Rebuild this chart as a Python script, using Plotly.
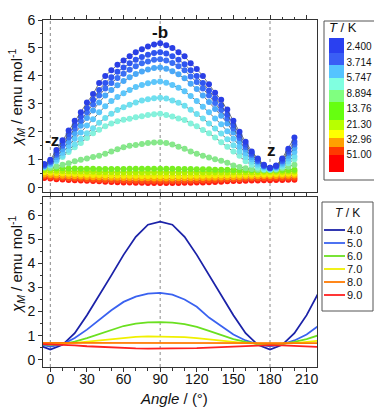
import math
import plotly.graph_objects as go

W, H = 374, 408

# ---------------- data: top panel (measured, markers) ----------------
angles_top = list(range(-5, 201, 5))

chi_c1 = [0.85,1.0,1.35,1.7,2.05,2.4,2.7,3.05,3.35,3.75, 4.0,4.2,4.4,4.55,4.7,4.85,4.95,5.05,5.12,5.17,
          5.1,5.0,4.85,4.7,4.45,4.25,4.0,3.7,3.4,3.15, 2.8,2.4,2.0,1.65,1.3,1.05,0.82,0.72, 0.8,1.05,1.4,1.8]
chi_c2 = [0.82,0.95,1.25,1.6,1.92,2.25,2.55,2.85,3.15,3.5, 3.75,3.95,4.15,4.3,4.45,4.58,4.68,4.76,4.82,4.85,
          4.8,4.7,4.58,4.42,4.2,4.0,3.75,3.48,3.2,2.95, 2.62,2.25,1.88,1.55,1.24,1.0,0.8,0.72, 0.78,1.0,1.32,1.65]
chi_c3 = [0.8,0.92,1.18,1.5,1.8,2.12,2.4,2.7,2.98,3.3, 3.55,3.75,3.93,4.08,4.22,4.35,4.45,4.52,4.58,4.6,
          4.55,4.46,4.35,4.2,3.98,3.78,3.55,3.3,3.03,2.78, 2.48,2.12,1.78,1.46,1.18,0.96,0.78,0.7, 0.76,0.95,1.25,1.55]
chi_c4 = [0.78,0.88,1.1,1.38,1.65,1.95,2.22,2.5,2.76,3.05, 3.3,3.5,3.67,3.82,3.95,4.07,4.16,4.23,4.28,4.3,
          4.26,4.17,4.06,3.92,3.72,3.53,3.3,3.07,2.82,2.58, 2.3,1.98,1.66,1.37,1.1,0.92,0.76,0.7, 0.74,0.9,1.15,1.42]
chi_c5 = [0.76,0.85,1.02,1.25,1.5,1.75,1.98,2.23,2.45,2.7, 2.92,3.1,3.25,3.38,3.5,3.6,3.68,3.74,3.78,3.8,
          3.76,3.68,3.58,3.45,3.28,3.1,2.9,2.7,2.48,2.27, 2.02,1.75,1.48,1.24,1.02,0.86,0.74,0.68, 0.72,0.85,1.05,1.28]
chi_c6 = [0.75,0.82,0.97,1.15,1.35,1.55,1.75,1.95,2.13,2.33, 2.5,2.65,2.78,2.88,2.97,3.05,3.12,3.17,3.2,3.22,
          3.19,3.12,3.04,2.93,2.79,2.64,2.48,2.3,2.12,1.94, 1.74,1.52,1.3,1.1,0.93,0.8,0.7,0.66, 0.7,0.8,0.95,1.12]
chi_c7 = [0.75,0.8,0.95,1.1,1.28,1.45,1.6,1.78,1.95,2.08, 2.2,2.3,2.38,2.43,2.47,2.52,2.56,2.6,2.63,2.65,
          2.6,2.55,2.48,2.42,2.3,2.2,2.07,1.95,1.8,1.63, 1.47,1.3,1.15,0.95,0.82,0.72,0.66,0.65, 0.68,0.75,0.88,1.02]
chi_c8 = [0.72,0.72,0.76,0.82,0.88,0.95,1.0,1.05,1.1,1.15, 1.22,1.3,1.38,1.45,1.5,1.53,1.57,1.6,1.62,1.63,
          1.6,1.55,1.47,1.4,1.3,1.22,1.15,1.08,1.02,0.97, 0.9,0.8,0.74,0.7,0.67,0.65,0.64,0.64, 0.65,0.7,0.75,0.82]
chi_l1 = [0.72,0.71,0.7,0.7,0.69,0.69,0.68,0.68,0.68,0.67, 0.67,0.67,0.67,0.67,0.68,0.68,0.68,0.68,0.68,0.68,
          0.68,0.68,0.67,0.67,0.67,0.66,0.66,0.66,0.65,0.65, 0.65,0.64,0.64,0.64,0.63,0.63,0.63,0.63, 0.63,0.64,0.64,0.65]
chi_l2 = [0.64,0.62,0.61,0.6,0.59,0.58,0.58,0.57,0.57,0.56, 0.56,0.56,0.55,0.55,0.55,0.55,0.55,0.55,0.55,0.55,
          0.55,0.55,0.55,0.55,0.55,0.55,0.55,0.55,0.55,0.55, 0.55,0.56,0.56,0.56,0.56,0.56,0.57,0.57, 0.57,0.57,0.58,0.58]
chi_l3 = [0.56,0.54,0.52,0.51,0.5,0.49,0.48,0.47,0.46,0.46, 0.45,0.44,0.44,0.43,0.43,0.43,0.42,0.42,0.42,0.42,
          0.42,0.42,0.42,0.42,0.43,0.43,0.43,0.44,0.44,0.45, 0.45,0.46,0.46,0.47,0.47,0.48,0.48,0.48, 0.49,0.49,0.5,0.5]
chi_l4 = [0.48,0.46,0.44,0.43,0.42,0.41,0.4,0.39,0.38,0.38, 0.37,0.36,0.36,0.35,0.35,0.34,0.34,0.34,0.33,0.33,
          0.33,0.33,0.34,0.34,0.34,0.35,0.35,0.36,0.36,0.37, 0.38,0.38,0.39,0.4,0.4,0.41,0.42,0.42, 0.42,0.43,0.43,0.44]
chi_l5 = [0.41,0.39,0.37,0.36,0.34,0.33,0.32,0.31,0.3,0.29, 0.28,0.27,0.27,0.26,0.25,0.25,0.24,0.24,0.24,0.24,
          0.24,0.24,0.24,0.25,0.25,0.26,0.26,0.27,0.28,0.29, 0.3,0.31,0.31,0.32,0.33,0.33,0.34,0.34, 0.35,0.35,0.36,0.36]
chi_l6 = [0.35,0.33,0.31,0.3,0.28,0.27,0.26,0.25,0.24,0.23, 0.22,0.21,0.2,0.19,0.19,0.18,0.18,0.17,0.17,0.17,
          0.17,0.17,0.17,0.18,0.18,0.19,0.19,0.2,0.21,0.22, 0.23,0.24,0.24,0.25,0.26,0.26,0.27,0.27, 0.28,0.28,0.29,0.29]

top_series = [chi_l6, chi_l5, chi_l4, chi_l3, chi_l2, chi_l1,
              chi_c8, chi_c7, chi_c6, chi_c5, chi_c4, chi_c3, chi_c2, chi_c1]
top_colors = ['#ff1a10', '#ff5010', '#ffa800', '#f2ee00', '#b5f000', '#78f020',
              '#86e88a', '#84f2dc', '#6fe0f0', '#5cc6fb', '#4aa8f8', '#3a6ef5', '#2f55f0', '#2a3fe6']

# colour-key of the top panel (temperature labels, K)
key_T_labels = ['2.400', '3.714', '5.747', '8.894', '13.76', '21.30', '32.96', '51.00']
key_colors = ['#ff0000', '#ff3a00', '#ffa000', '#ffff00', '#b8ff00', '#66ff10',
              '#80ff80', '#80ffe0', '#55c4ff', '#3a5ef5', '#2a40f0']
key_edges = [0.0, 0.127, 0.187, 0.254, 0.313, 0.388, 0.522, 0.612, 0.701, 0.799, 0.888, 1.0]

# ---------------- data: bottom panel (calculated, lines) ----------------
angles_bot = list(range(-10, 221, 10))
T_bot = ['4.0', '5.0', '6.0', '7.0', '8.0', '9.0']
calc_40 = [0.62,0.42,0.62,1.1,1.85,2.65,3.5,4.35,5.1,5.6,5.73,5.6,5.1,4.35,3.5,2.65,1.85,1.1,0.62,0.42,0.62,1.1,1.85,2.8]
calc_50 = [0.64,0.55,0.64,0.9,1.25,1.65,2.05,2.4,2.62,2.74,2.77,2.7,2.5,2.2,1.75,1.4,1.05,0.8,0.64,0.56,0.64,0.8,1.05,1.42]
calc_60 = [0.65,0.62,0.65,0.75,0.9,1.07,1.25,1.4,1.5,1.55,1.56,1.54,1.48,1.36,1.2,1.02,0.86,0.74,0.66,0.62,0.66,0.74,0.86,1.02]
calc_70 = [0.67,0.66,0.67,0.7,0.75,0.81,0.87,0.92,0.95,0.97,0.97,0.96,0.94,0.9,0.84,0.78,0.73,0.69,0.67,0.66,0.67,0.69,0.73,0.79]
calc_80 = [0.70,0.70,0.70,0.70,0.70,0.70,0.69,0.69,0.69,0.69,0.69,0.69,0.69,0.69,0.69,0.69,0.69,0.69,0.69,0.69,0.69,0.69,0.69,0.69]
calc_90 = [0.66,0.65,0.63,0.6,0.56,0.53,0.5,0.48,0.47,0.46,0.46,0.46,0.47,0.48,0.5,0.52,0.55,0.58,0.6,0.61,0.6,0.58,0.56,0.53]
bot_series = [calc_40, calc_50, calc_60, calc_70, calc_80, calc_90]
bot_colors = ['#1b22a8', '#3a62f0', '#6ae020', '#f0f000', '#ff7a00', '#ff2020']

ref_angles = [0, 90, 180]
x_range = [-6, 218.5]
top_labels = [('-z', 1.5, 1.7), ('-b', 90, 5.55), ('z', 181.5, 1.32)]

FONT = 'Liberation Sans, Arial, sans-serif'

def px(x):
    return x / W

def py(y):
    return 1 - y / H

fig = go.Figure()

# top panel traces
for vals, col in zip(top_series, top_colors):
    fig.add_trace(go.Scatter(x=angles_top, y=vals, mode='lines+markers',
                             line=dict(color='#555555', width=0.8),
                             marker=dict(color=col, size=6, line=dict(width=0)),
                             showlegend=False, xaxis='x', yaxis='y'))

# colour key as colorbar (log temperature, low T at top)
step = math.log10(3.714 / 2.400)
tvals = [-math.log10(float(t)) for t in key_T_labels]
cmax = tvals[0] + 0.56 * step
cmin = tvals[-1] - 1.1 * step
cscale = []
for i, c in enumerate(key_colors):
    cscale.append([key_edges[i], c])
    cscale.append([key_edges[i + 1], c])
fig.add_trace(go.Scatter(x=[None], y=[None], mode='markers', showlegend=False,
                         xaxis='x', yaxis='y',
                         marker=dict(color=[cmin], colorscale=cscale, cmin=cmin, cmax=cmax,
                                     showscale=True,
                                     colorbar=dict(x=px(329), xanchor='left', y=py(38), yanchor='top',
                                                   lenmode='pixels', len=134, thicknessmode='pixels',
                                                   thickness=15, xpad=0, ypad=0,
                                                   outlinewidth=0, borderwidth=0,
                                                   bgcolor='rgba(0,0,0,0)',
                                                   tickvals=tvals, ticktext=key_T_labels, ticks='',
                                                   tickfont=dict(size=10, color='#111111', family=FONT)))))

# bottom panel traces
for vals, col, name in zip(bot_series, bot_colors, T_bot):
    fig.add_trace(go.Scatter(x=angles_bot, y=vals, mode='lines', name=name,
                             line=dict(color=col, width=1.8),
                             showlegend=False, xaxis='x2', yaxis='y2'))

axis_common = dict(showline=True, linecolor='#333333', linewidth=1, showgrid=False, zeroline=False,
                   ticks='outside', tickcolor='#333333', automargin=False,
                   tickfont=dict(size=14, color='#111111', family=FONT))

fig.update_layout(
    width=W, height=H, margin=dict(l=0, r=0, t=0, b=0, pad=0, autoexpand=False),
    paper_bgcolor='white', plot_bgcolor='white',
    font=dict(family=FONT, color='#111111'),
    xaxis=dict(domain=[px(43), px(317)], range=x_range, anchor='y', mirror='ticks',
               tickvals=list(range(0, 211, 30)), ticklen=4, showticklabels=False,
               minor=dict(dtick=10, tick0=0, ticklen=2.5, ticks='outside', tickcolor='#333333'),
               **axis_common),
    yaxis=dict(domain=[py(192), py(20)], range=[-0.15, 6], anchor='x', mirror=True,
               tickvals=list(range(0, 7)), ticklen=4,
               minor=dict(dtick=0.5, tick0=0, ticklen=2.5, ticks='outside', tickcolor='#333333'),
               **axis_common),
    xaxis2=dict(domain=[px(43), px(317)], range=x_range, anchor='y2', mirror='ticks',
                tickvals=list(range(0, 211, 30)), ticklen=4, ticklabelstandoff=-5,
                minor=dict(dtick=10, tick0=0, ticklen=2.5, ticks='outside', tickcolor='#333333'),
                **axis_common),
    yaxis2=dict(domain=[py(367), py(197)], range=[-0.3, 6.75], anchor='x2', mirror=True,
                tickvals=list(range(0, 7)), ticklen=4,
                minor=dict(dtick=0.5, tick0=0, ticklen=2.5, ticks='outside', tickcolor='#333333'),
                **axis_common),
)

# reference lines (special crystal directions)
for a in ref_angles:
    for xr, yr in (('x', 'y domain'), ('x2', 'y2 domain')):
        fig.add_shape(type='line', xref=xr, yref=yr, x0=a, x1=a, y0=0, y1=1,
                      line=dict(color='#8a8a8a', width=1, dash='dot'), layer='below')

# direction labels in top panel
for txt, xa, ya in top_labels:
    fig.add_annotation(x=xa, y=ya, xref='x', yref='y', text='<b>' + txt + '</b>', showarrow=False,
                       xanchor='center', yanchor='middle',
                       font=dict(size=17, color='#111111', family=FONT))

# colour-key frame and title
fig.add_shape(type='rect', xref='paper', yref='paper', x0=px(324), x1=px(380), y0=py(180), y1=py(21),
              line=dict(color='#555555', width=1), fillcolor='rgba(0,0,0,0)')
fig.add_annotation(x=px(343), y=py(28), xref='paper', yref='paper', text='<i>T</i> / K',
                   xanchor='center', yanchor='middle',
                   showarrow=False, font=dict(size=13, family=FONT, color='#111111'))

# axis titles
ytitle = '<i>χ<sub>M</sub></i> / emu mol<sup>-1</sup>'
for yc in (98, 265):
    fig.add_annotation(x=px(16), y=py(yc), xref='paper', yref='paper', text=ytitle, textangle=-90,
                       xanchor='center', yanchor='middle',
                       showarrow=False, font=dict(size=15, family=FONT, color='#111111'))
fig.add_annotation(x=px(174), y=py(398), xref='paper', yref='paper', text='<i>Angle</i> / (°)',
                   xanchor='center', yanchor='middle',
                   showarrow=False, font=dict(size=15, family=FONT, color='#111111'))

# bottom legend (compact, drawn manually)
fig.add_shape(type='rect', xref='paper', yref='paper', x0=px(322), x1=px(373), y0=py(311), y1=py(202),
              line=dict(color='#555555', width=1), fillcolor='white')
fig.add_annotation(x=px(347), y=py(213), xref='paper', yref='paper', text='<i>T</i> / K',
                   xanchor='center', yanchor='middle',
                   showarrow=False, font=dict(size=12, family=FONT, color='#111111'))
for i, (name, col) in enumerate(zip(T_bot, bot_colors)):
    yy = 230 + i * 13
    fig.add_shape(type='line', xref='paper', yref='paper', x0=px(324), x1=px(345), y0=py(yy), y1=py(yy),
                  line=dict(color=col, width=1.8))
    fig.add_annotation(x=px(346), y=py(yy), xref='paper', yref='paper', text=name,
                       xanchor='left', yanchor='middle', borderpad=0,
                       showarrow=False, font=dict(size=11, family=FONT, color='#111111'))

fig.write_html('out.html', config={'displayModeBar': False},
               post_script="document.body.style.margin='0px';")
